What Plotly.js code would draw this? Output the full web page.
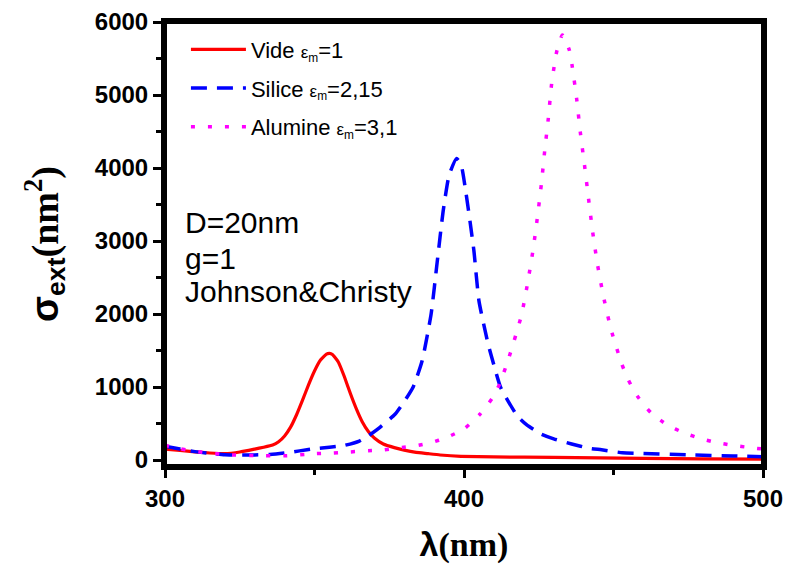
<!DOCTYPE html>
<html>
<head>
<meta charset="utf-8">
<script src="https://cdn.plot.ly/plotly-3.0.1.min.js"></script>
<style>html,body{margin:0;padding:0;background:#fff;}#chart{width:785px;height:574px;}</style>
</head>
<body>
<div id="chart"></div>
<script>
// Vide (epsilon_m = 1)
const lambdaVide = [300,305,310,315,320,325,330,333,336,338,340,342,344,346,348,350,352,354,355,356,358,360,362,364,366,368,370,373,376.7,380,384,388,392,399,410,430,460,480,500];
const sigmaVide  = [150,130,112,96,87,110,150,175,205,250,330,450,620,820,1030,1220,1370,1450,1460,1445,1340,1140,910,700,520,390,302,220,170,135,105,87,69,50,42,35,22,16,12];

// Silice (epsilon_m = 2,15)
const lambdaSilice = [300,305,310,315,320,325,330,335,340,345,350,355,360,365,368,372,377,380,383,386,389,391,393,395,397.5,399,400.7,403.3,405,408,410,412.3,417.9,421,425.7,430,436,442,446,453,460,475,490,500];
const sigmaSilice  = [190,150,115,90,72,68,70,75,95,125,155,175,200,260,330,450,630,800,1000,1360,2000,2700,3400,3900,4130,4050,3650,2870,2180,1600,1300,990,600,480,357,290,220,160,140,100,90,70,55,45];

// Alumine (epsilon_m = 3,1)
const lambdaAlumine = [300,305,310,315,320,330,340,350,356,361.7,366.7,373,378,383.5,389,394,400,405.4,409.6,412,415,419.2,421.3,423.1,424.6,425.9,427,428.2,429.3,431,432.9,435.2,436.2,437.7,438.9,440.3,441.6,443,444.6,446.7,449.2,452.7,454.9,457.9,462.6,468,473.7,479.2,484.6,490,495.7,500];
const sigmaAlumine  = [200,155,120,95,75,60,58,87,96,110,124,137,165,192,238,306,425,630,855,1050,1400,1980,2430,2880,3340,3790,4240,4680,5150,5593,5822,5620,5390,4940,4490,4040,3600,3135,2690,2230,1785,1322,1103,880,645,480,370,293,238,200,170,150];

const legendNames = [
  'Vide <span style="font-size:17px">ε<sub>m</sub></span>=1',
  'Silice <span style="font-size:17px">ε<sub>m</sub></span>=2,15',
  'Alumine <span style="font-size:17px">ε<sub>m</sub></span>=3,1'
];
const xTicks = [300, 400, 500];
const yTicks = [0, 1000, 2000, 3000, 4000, 5000, 6000];
const infoLines = ['D=20nm', 'g=1', 'Johnson&amp;Christy'];

const traces = [
  {x: lambdaVide, y: sigmaVide, name: legendNames[0], legendgroup: 'a', mode: 'lines',
   line: {color: '#ff0000', width: 3.2, shape: 'spline', smoothing: 0.4}},
  {x: lambdaSilice, y: sigmaSilice, name: legendNames[1], legendgroup: 'b', mode: 'lines',
   line: {color: '#0000ff', width: 3.5, dash: '16px,10px', shape: 'spline', smoothing: 0.5}},
  {x: lambdaAlumine, y: sigmaAlumine, name: legendNames[2], legendgroup: 'c', mode: 'lines',
   line: {color: '#ff00ff', width: 3.5, dash: '4px,13px', shape: 'spline', smoothing: 0.5}}
];

const annotations = infoLines.map((t, i) => ({
  xref: 'paper', yref: 'paper', x: 0.03, y: [0.548, 0.468, 0.392][i],
  xanchor: 'left', yanchor: 'middle', text: t, showarrow: false,
  font: {family: 'Liberation Sans, Arial', size: 30, color: '#000'}
}));

const tickFont = {family: 'Liberation Sans, Arial', size: 24, color: '#000', weight: 'bold'};

const layout = {
  width: 785, height: 574,
  margin: {l: 165, r: 22, t: 22, b: 108},
  paper_bgcolor: '#fff', plot_bgcolor: '#fff',
  showlegend: true,
  legend: {x: 0.035, y: 0.985, xanchor: 'left', yanchor: 'top', itemwidth: 55,
    bgcolor: 'rgba(0,0,0,0)', borderwidth: 0, traceorder: 'grouped', tracegroupgap: 7,
    font: {family: 'Liberation Sans, Arial', size: 22, color: '#000'}},
  xaxis: {range: [300, 500], tickmode: 'array', tickvals: xTicks, ticks: 'outside', ticklen: 8, tickwidth: 3, tickcolor: '#000',
    showline: true, linewidth: 4, linecolor: '#000', mirror: true, showgrid: false, zeroline: false,
    minor: {ticks: 'outside', dtick: 50, ticklen: 5, tickwidth: 3, tickcolor: '#000'},
    tickfont: tickFont,
    title: {text: '<b>λ<span style="font-family:Liberation Serif, Times New Roman">(nm)</span></b>',
      font: {family: 'Liberation Sans, Arial', size: 34, color: '#000'}, standoff: 22}},
  yaxis: {range: [-82, 6000], tickmode: 'array', tickvals: yTicks, ticks: 'outside', ticklen: 8, tickwidth: 3, tickcolor: '#000',
    showline: true, linewidth: 4, linecolor: '#000', mirror: true, showgrid: false, zeroline: false,
    minor: {ticks: 'outside', dtick: 500, ticklen: 5, tickwidth: 3, tickcolor: '#000'},
    tickfont: tickFont,
    title: {text: '<b>σ<sub>ext</sub><span style="font-family:Liberation Serif, Times New Roman">(nm<sup>2</sup>)</span></b>',
      font: {family: 'Liberation Sans, Arial', size: 38, color: '#000'}, standoff: 26}},
  shapes: [{type: 'rect', xref: 'paper', yref: 'paper', x0: 0, x1: 1, y0: 0, y1: 1,
    line: {color: '#000', width: 4}, layer: 'above'}],
  annotations: annotations
};

Plotly.newPlot('chart', traces, layout, {displayModeBar: false, staticPlot: true});
</script>
</body>
</html>
